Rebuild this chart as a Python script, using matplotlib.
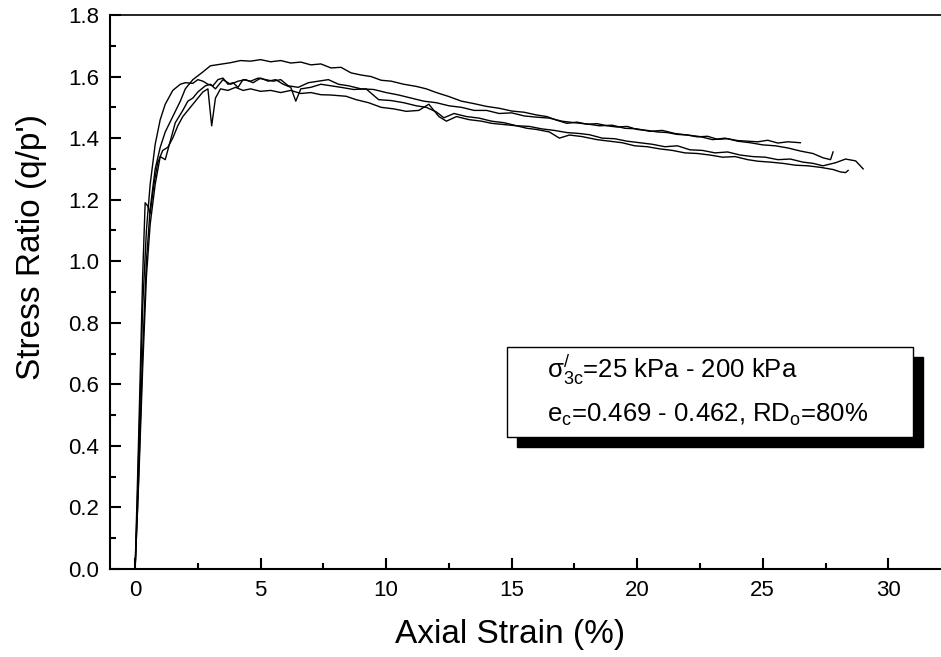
import matplotlib
matplotlib.use('Agg')
import matplotlib.pyplot as plt
from matplotlib.patches import Rectangle
from matplotlib.ticker import MultipleLocator

plt.rcParams['font.family'] = ['Liberation Sans', 'DejaVu Sans']
plt.rcParams['mathtext.fontset'] = 'custom'
plt.rcParams['mathtext.rm'] = 'Liberation Sans'
plt.rcParams['mathtext.it'] = 'Liberation Sans:italic'

# (axial strain %, stress ratio q/p')
curve_a = [(0, 0), (0.1, 0.2), (0.2, 0.45), (0.3, 0.7), (0.45, 1.0), (0.6, 1.17), (0.8, 1.3),
           (1.0, 1.37), (1.2, 1.42), (1.5, 1.47), (1.8, 1.52), (2.0, 1.56), (2.3, 1.59),
           (2.7, 1.615), (3.0, 1.635), (3.4, 1.64), (3.8, 1.645), (4.2, 1.652), (4.6, 1.65),
           (5.0, 1.655), (5.4, 1.648), (5.8, 1.652), (6.2, 1.644), (6.6, 1.647), (7.0, 1.638),
           (7.4, 1.641), (7.8, 1.628), (8.2, 1.63), (8.6, 1.612), (9.0, 1.605), (9.4, 1.60),
           (9.8, 1.588), (10.2, 1.585), (10.7, 1.575), (11.2, 1.568), (11.6, 1.56), (12.0, 1.548),
           (12.5, 1.535), (13.0, 1.52), (13.5, 1.512), (14.0, 1.503), (14.5, 1.497), (15.0, 1.488),
           (15.5, 1.484), (16.0, 1.475), (16.4, 1.47), (16.8, 1.458), (17.2, 1.448), (17.6, 1.452),
           (18.0, 1.445), (18.4, 1.447), (18.8, 1.44), (19.2, 1.436), (19.6, 1.438), (20.0, 1.428),
           (20.4, 1.425), (20.8, 1.42), (21.2, 1.418), (21.6, 1.412), (22.0, 1.41), (22.4, 1.404),
           (22.8, 1.406), (23.2, 1.396), (23.6, 1.398), (24.0, 1.392), (24.4, 1.39), (24.8, 1.388),
           (25.2, 1.393), (25.6, 1.384), (26.0, 1.388), (26.5, 1.385)]

curve_b = [(0, 0), (0.1, 0.25), (0.2, 0.55), (0.3, 0.85), (0.45, 1.1), (0.6, 1.25), (0.8, 1.38),
           (1.0, 1.46), (1.2, 1.51), (1.5, 1.555), (1.8, 1.575), (2.0, 1.58), (2.3, 1.578),
           (2.5, 1.59), (2.7, 1.585), (2.9, 1.575), (3.1, 1.57), (3.3, 1.59), (3.5, 1.595),
           (3.7, 1.575), (3.9, 1.58), (4.1, 1.565), (4.3, 1.59), (4.6, 1.585), (4.9, 1.595),
           (5.2, 1.59), (5.5, 1.585), (5.8, 1.59), (6.1, 1.57), (6.5, 1.565), (6.9, 1.58),
           (7.3, 1.585), (7.7, 1.59), (8.1, 1.575), (8.5, 1.57), (9.0, 1.56), (9.5, 1.558),
           (10.0, 1.548), (10.5, 1.54), (11.0, 1.53), (11.5, 1.52), (12.0, 1.515), (12.5, 1.505),
           (13.0, 1.50), (13.5, 1.49), (14.0, 1.49), (14.5, 1.48), (15.0, 1.482), (15.5, 1.472),
           (16.0, 1.468), (16.5, 1.465), (17.0, 1.455), (17.5, 1.45), (18.0, 1.446), (18.5, 1.44),
           (19.0, 1.442), (19.5, 1.432), (20.0, 1.43), (20.5, 1.422), (21.0, 1.425), (21.5, 1.415),
           (22.0, 1.41), (22.5, 1.405), (23.0, 1.395), (23.5, 1.40), (24.0, 1.39), (24.5, 1.385),
           (25.0, 1.378), (25.5, 1.375), (26.0, 1.368), (26.5, 1.358), (27.0, 1.35), (27.4, 1.336),
           (27.7, 1.33), (27.8, 1.355)]

curve_c = [(0, 0), (0.15, 0.3), (0.3, 0.65), (0.45, 0.95), (0.6, 1.12), (0.8, 1.25), (1.0, 1.34),
           (1.2, 1.33), (1.4, 1.39), (1.6, 1.45), (1.9, 1.49), (2.1, 1.52), (2.3, 1.53), (2.5, 1.55),
           (2.8, 1.57), (3.0, 1.575), (3.2, 1.56), (3.5, 1.59), (3.8, 1.575), (4.1, 1.585),
           (4.4, 1.59), (4.7, 1.58), (5.0, 1.595), (5.3, 1.585), (5.6, 1.59), (5.9, 1.575),
           (6.2, 1.565), (6.4, 1.52), (6.6, 1.56), (7.0, 1.565), (7.4, 1.575), (7.8, 1.57),
           (8.2, 1.565), (8.7, 1.558), (9.2, 1.56), (9.7, 1.525), (10.2, 1.522), (10.7, 1.515),
           (11.2, 1.505), (11.6, 1.50), (12.0, 1.485), (12.3, 1.466), (12.7, 1.48), (13.2, 1.47),
           (13.7, 1.465), (14.2, 1.455), (14.7, 1.45), (15.2, 1.44), (15.7, 1.438), (16.2, 1.43),
           (16.7, 1.425), (17.2, 1.418), (17.7, 1.415), (18.1, 1.411), (18.6, 1.40), (19.1, 1.398),
           (19.6, 1.39), (20.1, 1.385), (20.6, 1.38), (21.1, 1.372), (21.6, 1.375), (22.1, 1.362),
           (22.6, 1.36), (23.1, 1.352), (23.6, 1.355), (24.1, 1.345), (24.6, 1.34), (25.1, 1.338),
           (25.6, 1.33), (26.1, 1.332), (26.6, 1.322), (27.0, 1.318), (27.4, 1.31), (27.9, 1.32),
           (28.3, 1.332), (28.7, 1.326), (29.0, 1.30)]

curve_d = [(0, 0), (0.1, 0.3), (0.2, 0.62), (0.3, 0.95), (0.4, 1.19), (0.5, 1.18), (0.6, 1.155),
           (0.75, 1.25), (0.9, 1.32), (1.1, 1.36), (1.3, 1.37), (1.5, 1.40), (1.7, 1.44), (1.9, 1.47),
           (2.1, 1.49), (2.3, 1.51), (2.5, 1.53), (2.7, 1.55), (2.9, 1.56), (3.05, 1.44), (3.2, 1.53),
           (3.4, 1.56), (3.7, 1.555), (4.0, 1.565), (4.3, 1.555), (4.6, 1.56), (5.0, 1.552),
           (5.4, 1.555), (5.8, 1.548), (6.2, 1.555), (6.6, 1.545), (7.0, 1.548), (7.4, 1.541),
           (7.8, 1.54), (8.4, 1.536), (8.8, 1.525), (9.3, 1.515), (9.8, 1.50), (10.3, 1.495),
           (10.8, 1.487), (11.3, 1.49), (11.7, 1.51), (12.1, 1.47), (12.4, 1.455), (12.8, 1.47),
           (13.3, 1.46), (13.8, 1.455), (14.2, 1.448), (14.7, 1.444), (15.2, 1.44), (15.6, 1.432),
           (16.0, 1.428), (16.5, 1.42), (16.9, 1.40), (17.3, 1.41), (17.8, 1.405), (18.4, 1.395),
           (18.9, 1.39), (19.4, 1.385), (19.9, 1.375), (20.4, 1.372), (20.9, 1.365), (21.4, 1.36),
           (21.9, 1.352), (22.4, 1.35), (22.9, 1.345), (23.4, 1.338), (23.9, 1.34), (24.4, 1.33),
           (24.8, 1.325), (25.3, 1.322), (25.8, 1.318), (26.3, 1.312), (26.8, 1.31), (27.3, 1.305),
           (27.8, 1.298), (28.1, 1.29), (28.3, 1.288), (28.4, 1.295)]

curves = [curve_a, curve_b, curve_c, curve_d]

fig = plt.figure(figsize=(9.41, 6.57), dpi=100)
ax = fig.add_axes([110 / 941, 88 / 657, 831 / 941, 554 / 657])

for c in curves:
    xs, ys = zip(*c)
    ax.plot(xs, ys, color='black', lw=1.0)

ax.set_xlim(-1.0, 32.1)
ax.set_ylim(0, 1.8)
ax.xaxis.set_major_locator(MultipleLocator(5))
ax.xaxis.set_minor_locator(MultipleLocator(2.5))
ax.yaxis.set_major_locator(MultipleLocator(0.2))
ax.yaxis.set_minor_locator(MultipleLocator(0.1))
ax.yaxis.set_major_formatter(matplotlib.ticker.FormatStrFormatter('%.1f'))
ax.tick_params(which='both', direction='in', width=1.5, labelsize=16, top=False, right=False)
ax.tick_params(which='major', length=8, pad=8)
ax.tick_params(which='minor', length=4.5)
for s in ['left', 'bottom']:
    ax.spines[s].set_linewidth(1.5)
ax.spines['top'].set_linewidth(1.2)
ax.spines['right'].set_visible(False)

ax.set_xlabel('Axial Strain (%)', fontsize=24, va='center')
ax.xaxis.set_label_coords(0.481, -0.119)
ax.set_ylabel("Stress Ratio (q/p')", fontsize=24, va='center')
ax.yaxis.set_label_coords(-0.094, 0.581)

# annotation box with drop shadow
ax.add_patch(Rectangle((0.4897, 0.2203), 0.4886, 0.1624, transform=ax.transAxes,
                       facecolor='black', edgecolor='black', zorder=5, clip_on=False))
ax.add_patch(Rectangle((0.4777, 0.2383), 0.4886, 0.1624, transform=ax.transAxes,
                       facecolor='white', edgecolor='black', lw=1.0, zorder=6, clip_on=False))
ax.text(0.526, 0.345, r'$\mathregular{\sigma^{/}_{3c}}$=25 kPa - 200 kPa', transform=ax.transAxes,
        fontsize=18.5, va='baseline', ha='left', zorder=7)
ax.text(0.526, 0.265, r'e$\mathregular{_c}$=0.469 - 0.462, RD$\mathregular{_o}$=80%', transform=ax.transAxes,
        fontsize=18.5, va='baseline', ha='left', zorder=7)

fig.savefig('out.png', dpi=100)
